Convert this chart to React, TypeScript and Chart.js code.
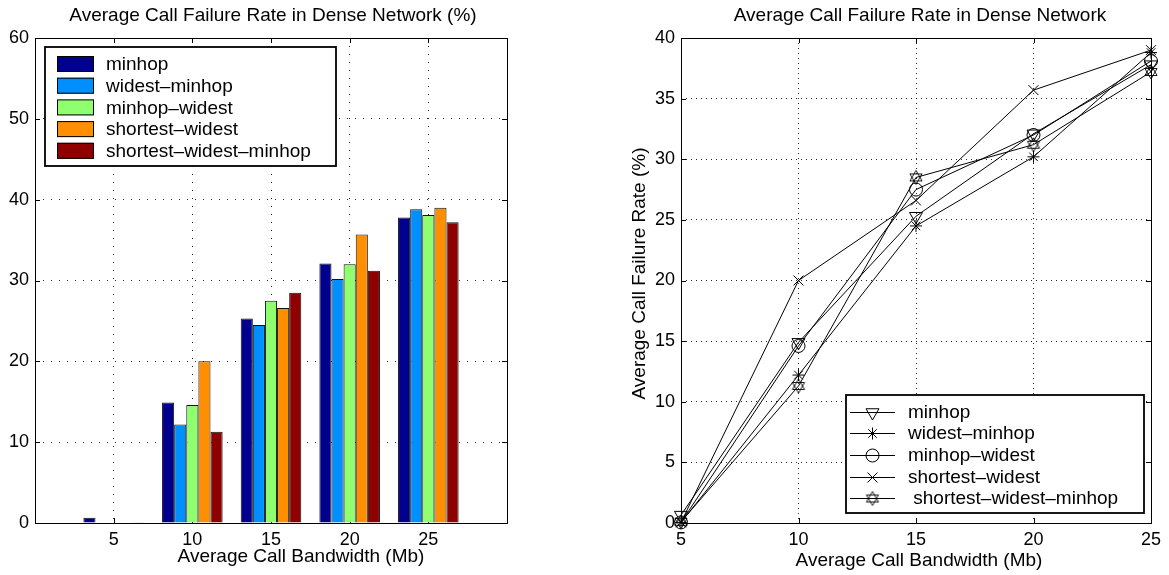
import React, { useEffect, useRef } from 'react';
import { Chart, registerables } from 'chart.js';
import { drawPoint } from 'chart.js/helpers';

Chart.register(...registerables);

const FONT_FAMILY = '"Liberation Sans", Arial, Helvetica, sans-serif';

// Average call bandwidth (Mb)
const bandwidths = [5, 10, 15, 20, 25];

// Average call failure rate (%) for each routing scheme
const minhop = [0.65, 14.9, 25.3, 32.1, 37.8];
const widestMinhop = [0.05, 12.2, 24.5, 30.2, 38.8];
const minhopWidest = [0.05, 14.6, 27.5, 32.0, 38.1];
const shortestWidest = [0.05, 20.0, 26.6, 35.7, 39.0];
const shortestWidestMinhop = [0.1, 11.3, 28.5, 31.2, 37.2];

const seriesValues = [minhop, widestMinhop, minhopWidest, shortestWidest, shortestWidestMinhop];
const barLegendNames = ['minhop', 'widest–minhop', 'minhop–widest', 'shortest–widest', 'shortest–widest–minhop'];
const lineLegendNames = ['minhop', 'widest–minhop', 'minhop–widest', 'shortest–widest', ' shortest–widest–minhop'];

const barColors = ['#00008F', '#008FFF', '#8FFF70', '#FF8F00', '#8F0000'];

const barYTicks = [0, 10, 20, 30, 40, 50, 60];
const lineYTicks = [0, 5, 10, 15, 20, 25, 30, 35, 40];
const bandwidthTicks = [5, 10, 15, 20, 25];

const barTitle = 'Average Call Failure Rate in Dense Network (%)';
const lineTitle = 'Average Call Failure Rate in Dense Network';
const xAxisTitle = 'Average Call Bandwidth (Mb)';
const yAxisTitle = 'Average Call Failure Rate (%)';

const TICK_FONT = { family: FONT_FAMILY, size: 18 };
const TEXT_SIZE = 19;

function useTicks(values: number[]) {
  return (scale: any) => {
    scale.ticks = values.map((value) => ({ value }));
  };
}

// Solid axes box plus short inward tick marks on all four sides
function makeAxesFrame(boxOnTop: boolean) {
  const drawBox = (chart: any) => {
    const { ctx, chartArea: a } = chart;
    ctx.save();
    ctx.strokeStyle = '#000';
    ctx.lineWidth = 1;
    ctx.strokeRect(Math.round(a.left) + 0.5, Math.round(a.top) + 0.5, Math.round(a.right - a.left), Math.round(a.bottom - a.top));
    ctx.restore();
  };
  const drawTickMarks = (chart: any) => {
    const { ctx, chartArea: a, scales } = chart;
    const len = 5;
    ctx.save();
    ctx.strokeStyle = '#000';
    ctx.lineWidth = 1;
    ctx.beginPath();
    for (const t of scales.x.ticks) {
      const px = Math.round(scales.x.getPixelForValue(t.value)) + 0.5;
      ctx.moveTo(px, a.bottom);
      ctx.lineTo(px, a.bottom - len);
      ctx.moveTo(px, a.top);
      ctx.lineTo(px, a.top + len);
    }
    for (const t of scales.y.ticks) {
      const py = Math.round(scales.y.getPixelForValue(t.value)) + 0.5;
      ctx.moveTo(a.left, py);
      ctx.lineTo(a.left + len, py);
      ctx.moveTo(a.right, py);
      ctx.lineTo(a.right - len, py);
    }
    ctx.stroke();
    ctx.restore();
  };
  return {
    id: 'axesFrame',
    beforeDatasetsDraw(chart: any) {
      drawTickMarks(chart);
      if (!boxOnTop) drawBox(chart);
    },
    afterDatasetsDraw(chart: any) {
      if (boxOnTop) drawBox(chart);
    },
  };
}

type Caption = { text: string; at: (a: any) => [number, number]; vertical?: boolean };

function makeCaptions(items: Caption[]) {
  return {
    id: 'captions',
    afterDraw(chart: any) {
      const { ctx, chartArea } = chart;
      for (const c of items) {
        const [x, y] = c.at(chartArea);
        ctx.save();
        ctx.font = `${TEXT_SIZE}px ${FONT_FAMILY}`;
        ctx.fillStyle = '#000';
        ctx.textAlign = 'center';
        ctx.textBaseline = 'middle';
        ctx.translate(x, y);
        if (c.vertical) ctx.rotate(-Math.PI / 2);
        ctx.fillText(c.text, 0, 0);
        ctx.restore();
      }
    },
  };
}

// Boxed legend with colour swatches, drawn in the upper-left of the plot
const barLegend = {
  id: 'barLegend',
  afterDraw(chart: any) {
    const { ctx, chartArea: a } = chart;
    const x0 = a.left + 10;
    const y0 = a.top + 9;
    const w = 291;
    const h = 119;
    ctx.save();
    ctx.fillStyle = '#fff';
    ctx.fillRect(x0, y0, w, h);
    ctx.strokeStyle = '#000';
    ctx.lineWidth = 1.8;
    ctx.strokeRect(x0, y0, w, h);
    ctx.font = `${TEXT_SIZE}px ${FONT_FAMILY}`;
    ctx.textAlign = 'left';
    ctx.textBaseline = 'middle';
    chart.data.datasets.forEach((ds: any, i: number) => {
      const cy = y0 + 17 + i * 21.7;
      ctx.fillStyle = ds.backgroundColor;
      ctx.fillRect(x0 + 12, cy - 8, 37, 16);
      ctx.lineWidth = 1;
      ctx.strokeRect(x0 + 12.5, cy - 7.5, 36, 15);
      ctx.fillStyle = '#000';
      ctx.fillText(ds.label, x0 + 61, cy + 1);
    });
    ctx.restore();
  },
};

// Boxed legend with line samples and markers, drawn in the lower-right of the plot
const lineLegend = {
  id: 'lineLegend',
  afterDraw(chart: any) {
    const { ctx, chartArea: a } = chart;
    const w = 298;
    const h = 118;
    const x0 = a.right - 7 - w;
    const y0 = a.bottom - 10 - h;
    ctx.save();
    ctx.fillStyle = '#fff';
    ctx.fillRect(x0, y0, w, h);
    ctx.strokeStyle = '#000';
    ctx.lineWidth = 1.8;
    ctx.strokeRect(x0, y0, w, h);
    ctx.font = `${TEXT_SIZE}px ${FONT_FAMILY}`;
    ctx.textAlign = 'left';
    ctx.textBaseline = 'middle';
    chart.data.datasets.forEach((ds: any, i: number) => {
      const cy = Math.round(y0 + 16.7 + i * 21.65) + 0.5;
      ctx.strokeStyle = '#000';
      ctx.lineWidth = 1;
      ctx.beginPath();
      ctx.moveTo(x0 + 4, cy);
      ctx.lineTo(x0 + 49, cy);
      ctx.stroke();
      ctx.fillStyle = 'rgba(0,0,0,0)';
      drawPoint(
        ctx,
        { pointStyle: ds.pointStyle, radius: ds.pointRadius, rotation: ds.pointRotation || 0, borderWidth: 1 },
        x0 + 26.5,
        cy
      );
      ctx.fillStyle = '#000';
      ctx.fillText(ds.label, x0 + 62, cy + 0.5);
    });
    ctx.restore();
  },
};

// Six-pointed star marker (two overlapping open triangles)
function makeHexagram(r: number) {
  const size = Math.ceil(r * 2 + 4);
  const c = document.createElement('canvas');
  c.width = size;
  c.height = size;
  const g = c.getContext('2d')!;
  g.strokeStyle = '#000';
  g.lineWidth = 0.9;
  const cx = size / 2;
  const cy = size / 2;
  for (const start of [-Math.PI / 2, Math.PI / 2]) {
    g.beginPath();
    for (let k = 0; k < 3; k++) {
      const ang = start + (k * 2 * Math.PI) / 3;
      const x = cx + r * Math.cos(ang);
      const y = cy + r * Math.sin(ang);
      if (k === 0) g.moveTo(x, y);
      else g.lineTo(x, y);
    }
    g.closePath();
    g.stroke();
  }
  return c;
}

const BAR_W = 545;
const LINE_LEFT = 580;
const LINE_W = 589;
const H = 575;

function BarPanel() {
  const ref = useRef<HTMLCanvasElement>(null);
  useEffect(() => {
    const chart = new Chart(ref.current!, {
      type: 'bar',
      data: {
        datasets: seriesValues.map((vals, i) => ({
          label: barLegendNames[i],
          data: bandwidths.map((x, j) => ({ x, y: vals[j] })),
          backgroundColor: barColors[i],
          borderColor: '#111',
          borderWidth: 1,
          categoryPercentage: 0.77,
          barPercentage: 1.0,
        })),
      },
      options: {
        responsive: false,
        animation: false,
        devicePixelRatio: 1,
        events: [],
        layout: { padding: { left: 0, top: 38, right: BAR_W - 507, bottom: 0 } },
        plugins: { legend: { display: false }, title: { display: false }, tooltip: { enabled: false } },
        scales: {
          x: {
            type: 'linear',
            min: 0,
            max: 30,
            offset: false,
            afterBuildTicks: useTicks(bandwidthTicks),
            afterFit: (s: any) => {
              s.height = H - 523;
            },
            ticks: { font: TICK_FONT, color: '#000', padding: 6, maxRotation: 0 },
            grid: { offset: false, drawTicks: false, color: 'rgba(0,0,0,0.85)', lineWidth: 1 },
            border: { display: false, dash: [1, 7] },
          },
          y: {
            min: 0,
            max: 60,
            afterBuildTicks: useTicks(barYTicks),
            afterFit: (s: any) => {
              s.width = 35;
            },
            ticks: { font: TICK_FONT, color: '#000', padding: 6 },
            grid: { drawTicks: false, color: 'rgba(0,0,0,0.85)', lineWidth: 1 },
            border: { display: false, dash: [1, 7] },
          },
        },
      },
      plugins: [
        makeAxesFrame(true),
        barLegend,
        makeCaptions([
          { text: barTitle, at: (a) => [(a.left + a.right) / 2 + 2, a.top - 22] },
          { text: xAxisTitle, at: (a) => [a.left + 266, a.bottom + 34] },
        ]),
      ],
    } as any);
    return () => chart.destroy();
  }, []);
  return <canvas ref={ref} width={BAR_W} height={H} style={{ position: 'absolute', left: 0, top: 0 }} />;
}

function LinePanel() {
  const ref = useRef<HTMLCanvasElement>(null);
  useEffect(() => {
    const markers = [
      { pointStyle: 'triangle', pointRadius: 7.5, pointRotation: 180 },
      { pointStyle: 'star', pointRadius: 6, pointRotation: 0 },
      { pointStyle: 'circle', pointRadius: 6.5, pointRotation: 0 },
      { pointStyle: 'crossRot', pointRadius: 7, pointRotation: 0 },
      { pointStyle: makeHexagram(7), pointRadius: 7, pointRotation: 0 },
    ];
    const chart = new Chart(ref.current!, {
      type: 'line',
      data: {
        datasets: seriesValues.map((vals, i) => ({
          label: lineLegendNames[i],
          data: bandwidths.map((x, j) => ({ x, y: vals[j] })),
          borderColor: '#000',
          borderWidth: 1,
          backgroundColor: 'rgba(0,0,0,0)',
          fill: false,
          tension: 0,
          clip: false,
          pointBorderColor: '#000',
          pointBackgroundColor: 'rgba(0,0,0,0)',
          pointBorderWidth: 1,
          ...markers[i],
        })),
      },
      options: {
        responsive: false,
        animation: false,
        devicePixelRatio: 1,
        events: [],
        layout: { padding: { left: 0, top: 38, right: LINE_W - (1151 - LINE_LEFT), bottom: 0 } },
        plugins: { legend: { display: false }, title: { display: false }, tooltip: { enabled: false } },
        scales: {
          x: {
            type: 'linear',
            min: 5,
            max: 25,
            afterBuildTicks: useTicks(bandwidthTicks),
            afterFit: (s: any) => {
              s.height = H - 523;
            },
            ticks: { font: TICK_FONT, color: '#000', padding: 6, maxRotation: 0 },
            grid: { drawTicks: false, color: 'rgba(0,0,0,0.85)', lineWidth: 1 },
            border: { display: false, dash: [1, 4] },
          },
          y: {
            min: 0,
            max: 40,
            afterBuildTicks: useTicks(lineYTicks),
            afterFit: (s: any) => {
              s.width = 681 - LINE_LEFT;
            },
            ticks: { font: TICK_FONT, color: '#000', padding: 6 },
            grid: { drawTicks: false, color: 'rgba(0,0,0,0.85)', lineWidth: 1 },
            border: { display: false, dash: [1, 4] },
          },
        },
      },
      plugins: [
        makeAxesFrame(false),
        lineLegend,
        makeCaptions([
          { text: lineTitle, at: (a) => [(a.left + a.right) / 2 + 4, a.top - 22] },
          { text: xAxisTitle, at: (a) => [(a.left + a.right) / 2 + 3, a.bottom + 38] },
          { text: yAxisTitle, at: (a) => [a.left - 41, (a.top + a.bottom) / 2 - 7], vertical: true },
        ]),
      ],
    } as any);
    return () => chart.destroy();
  }, []);
  return <canvas ref={ref} width={LINE_W} height={H} style={{ position: 'absolute', left: LINE_LEFT, top: 0 }} />;
}

export default function App() {
  return (
    <div style={{ position: 'absolute', left: 0, top: 0, width: 1169, height: H, background: '#fff' }}>
      <BarPanel />
      <LinePanel />
    </div>
  );
}
